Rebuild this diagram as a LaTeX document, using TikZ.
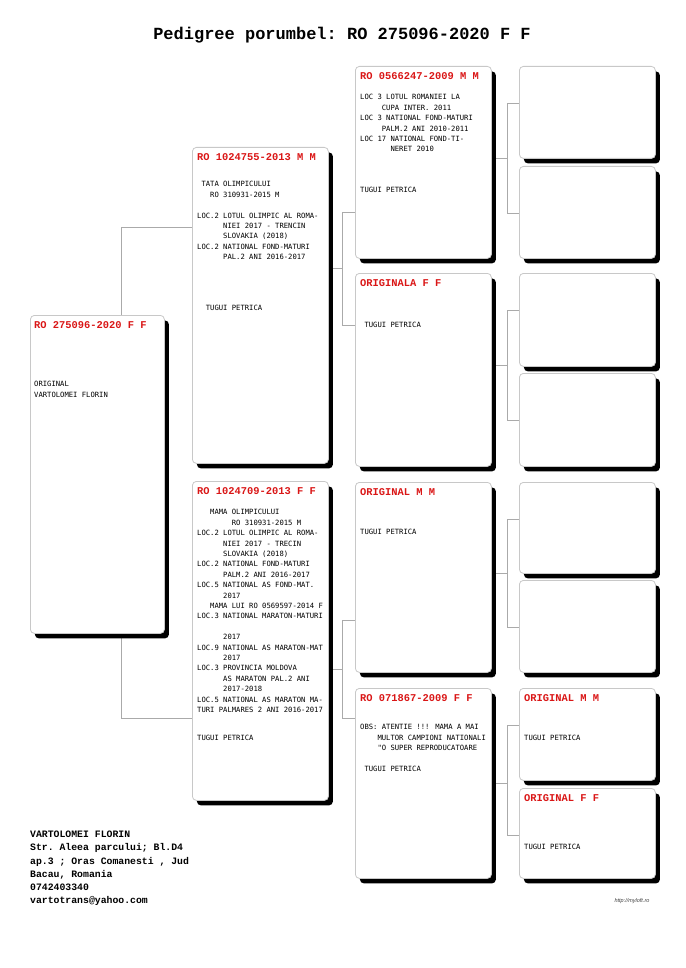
\documentclass[tikz,border=0pt]{standalone}
\usepackage{fontspec}
\setmonofont{Liberation Mono}
\newfontfamily\bodyfont{DejaVu Sans Mono}
\newfontfamily\urlfont{Liberation Sans}
\usetikzlibrary{positioning,backgrounds,shadows}

\definecolor{hdrred}{RGB}{218,22,22}
\definecolor{boxline}{RGB}{200,200,200}
\definecolor{linkgray}{RGB}{170,170,170}

% indent by n characters of the current (mono) font
\newcommand\ind[1]{\hspace*{#1\fontcharwd\font`0}}

\begin{document}
\begin{tikzpicture}[x=1pt, y=-1pt,
  box/.style={draw=boxline, fill=white, line width=0.8pt, rounded corners=4pt,
              anchor=north west, inner sep=0pt, minimum width=136pt,
              drop shadow={shadow xshift=4.5pt, shadow yshift=-5pt, fill=black, opacity=1}},
  hdr/.style={anchor=north west, inner sep=0pt, text=hdrred,
              font=\ttfamily\bfseries\fontsize{10.4}{12}\selectfont},
  body/.style={anchor=north west, inner sep=0pt, align=left,
               font=\bodyfont\fontsize{7.2}{10.4}\selectfont},
  link/.style={draw=linkgray, line width=0.6pt},
]
\useasboundingbox (0,0) rectangle (685,968);

\node[anchor=base, font=\ttfamily\bfseries\fontsize{17}{20}\selectfont] (title) at (342,40)
  {Pedigree porumbel: RO 275096-2020 F F};

% the bird
\node[box, minimum width=134pt, minimum height=318pt] (b1) at (30,315) {};
\node[hdr] (b1h) at ([shift={(4pt,-6.5pt)}]b1.north west) {RO 275096-2020 F F};
\node[body] (b1t) at ([shift={(4pt,-66.4pt)}]b1.north west)
  {ORIGINAL\\VARTOLOMEI FLORIN};

% parents
\node[box, minimum height=316pt] (b2) at (192,147) {};
\node[hdr] (b2h) at ([shift={(5pt,-6.5pt)}]b2.north west) {RO 1024755-2013 M M};
\node[body] (b2t) at ([shift={(5pt,-34.4pt)}]b2.north west)
  {\ind{1}TATA OLIMPICULUI\\
   \ind{3}RO 310931-2015 M\\[10.4pt]
   LOC.2 LOTUL OLIMPIC AL ROMA-\\
   \ind{6}NIEI 2017 - TRENCIN\\
   \ind{6}SLOVAKIA (2018)\\
   LOC.2 NATIONAL FOND-MATURI\\
   \ind{6}PAL.2 ANI 2016-2017\\[40.6pt]
   \ind{2}TUGUI PETRICA};

\node[box, minimum height=319pt] (b3) at (192,481) {};
\node[hdr] (b3h) at ([shift={(5pt,-6.5pt)}]b3.north west) {RO 1024709-2013 F F};
\node[body] (b3t) at ([shift={(5pt,-28.4pt)}]b3.north west)
  {\ind{3}MAMA OLIMPICULUI\\
   \ind{8}RO 310931-2015 M\\
   LOC.2 LOTUL OLIMPIC AL ROMA-\\
   \ind{6}NIEI 2017 - TRECIN\\
   \ind{6}SLOVAKIA (2018)\\
   LOC.2 NATIONAL FOND-MATURI\\
   \ind{6}PALM.2 ANI 2016-2017\\
   LOC.5 NATIONAL AS FOND-MAT.\\
   \ind{6}2017\\
   \ind{3}MAMA LUI RO 0569597-2014 F\\
   LOC.3 NATIONAL MARATON-MATURI\\[10.4pt]
   \ind{6}2017\\
   LOC.9 NATIONAL AS MARATON-MAT\\
   \ind{6}2017\\
   LOC.3 PROVINCIA MOLDOVA\\
   \ind{6}AS MARATON PAL.2 ANI\\
   \ind{6}2017-2018\\
   LOC.5 NATIONAL AS MARATON MA-\\
   TURI PALMARES 2 ANI 2016-2017\\[18pt]
   TUGUI PETRICA};

% grandparents
\node[box, minimum height=192pt] (c1) at (355,66) {};
\node[hdr] (c1h) at ([shift={(5pt,-6.5pt)}]c1.north west) {RO 0566247-2009 M M};
\node[body] (c1t) at ([shift={(5pt,-28.4pt)}]c1.north west)
  {LOC 3 LOTUL ROMANIEI LA\\
   \ind{5}CUPA INTER. 2011\\
   LOC 3 NATIONAL FOND-MATURI\\
   \ind{5}PALM.2 ANI 2010-2011\\
   LOC 17 NATIONAL FOND-TI-\\
   \ind{7}NERET 2010\\[30.6pt]
   TUGUI PETRICA};

\node[box, minimum height=193pt] (c2) at (355,273) {};
\node[hdr] (c2h) at ([shift={(5pt,-6.5pt)}]c2.north west) {ORIGINALA F F};
\node[body] (c2t) at ([shift={(5pt,-49.4pt)}]c2.north west) {\ind{1}TUGUI PETRICA};

\node[box, minimum height=190pt] (c3) at (355,482) {};
\node[hdr] (c3h) at ([shift={(5pt,-6.5pt)}]c3.north west) {ORIGINAL M M};
\node[body] (c3t) at ([shift={(5pt,-47.4pt)}]c3.north west) {TUGUI PETRICA};

\node[box, minimum height=190pt] (c4) at (355,688) {};
\node[hdr] (c4h) at ([shift={(5pt,-6.5pt)}]c4.north west) {RO 071867-2009 F F};
\node[body] (c4t) at ([shift={(5pt,-36.4pt)}]c4.north west)
  {OBS: ATENTIE !!! MAMA A MAI\\
   \ind{4}MULTOR CAMPIONI NATIONALI\\
   \ind{4}"O SUPER REPRODUCATOARE\\[10.4pt]
   \ind{1}TUGUI PETRICA};

% great-grandparents
\node[box, minimum height=92pt] (d1) at (519,66) {};
\node[box, minimum height=92pt] (d2) at (519,166) {};
\node[box, minimum height=93pt] (d3) at (519,273) {};
\node[box, minimum height=93pt] (d4) at (519,373) {};
\node[box, minimum height=91pt] (d5) at (519,482) {};
\node[box, minimum height=92pt] (d6) at (519,580) {};
\node[box, minimum height=92pt] (d7) at (519,688) {};
\node[hdr] (d7h) at ([shift={(5pt,-6.5pt)}]d7.north west) {ORIGINAL M M};
\node[body] (d7t) at ([shift={(5pt,-47.4pt)}]d7.north west) {TUGUI PETRICA};
\node[box, minimum height=90pt] (d8) at (519,788) {};
\node[hdr] (d8h) at ([shift={(5pt,-6.5pt)}]d8.north west) {ORIGINAL F F};
\node[body] (d8t) at ([shift={(5pt,-56.4pt)}]d8.north west) {TUGUI PETRICA};

% breeder
\node[anchor=north west, inner sep=0pt, align=left,
      font=\ttfamily\bfseries\fontsize{9.8}{13.2}\selectfont] (owner) at (30,831)
  {VARTOLOMEI FLORIN\\
   Str. Aleea parcului; Bl.D4\\
   ap.3 ; Oras Comanesti , Jud\\
   Bacau, Romania\\
   0742403340\\
   vartotrans@yahoo.com};

\node[font=\urlfont\itshape\fontsize{5.5}{6}\selectfont, text=black!75] (url) at (632,901)
  {http://myloft.ro};

\begin{scope}[on background layer]
  \fill[white] (0,0) rectangle (685,968);
  % bird -> parents
  \draw[link] ([yshift=-80pt]b2.north west) -| ([xshift=91pt]b1.north west);
  \draw[link] ([yshift=-237pt]b3.north west) -| ([xshift=91pt]b1.south west);
  % parents -> grandparents
  \draw[link] ([yshift=-146pt]c1.north west) -- ++(-13,0) |- ([yshift=-52pt]c2.north west);
  \draw[link] ([yshift=-121pt]b2.north east) -- ++(14,0);
  \draw[link] ([yshift=-138pt]c3.north west) -- ++(-13,0) |- ([yshift=-30pt]c4.north west);
  \draw[link] ([yshift=-188pt]b3.north east) -- ++(14,0);
  % grandparents -> great-grandparents
  \draw[link] ([yshift=-37pt]d1.north west) -- ++(-12,0) |- ([yshift=-47pt]d2.north west);
  \draw[link] ([yshift=-92pt]c1.north east) -- ++(16,0);
  \draw[link] ([yshift=-37pt]d3.north west) -- ++(-12,0) |- ([yshift=-47pt]d4.north west);
  \draw[link] ([yshift=-92pt]c2.north east) -- ++(16,0);
  \draw[link] ([yshift=-37pt]d5.north west) -- ++(-12,0) |- ([yshift=-47pt]d6.north west);
  \draw[link] ([yshift=-91pt]c3.north east) -- ++(16,0);
  \draw[link] ([yshift=-37pt]d7.north west) -- ++(-12,0) |- ([yshift=-47pt]d8.north west);
  \draw[link] ([yshift=-95pt]c4.north east) -- ++(16,0);
\end{scope}
\end{tikzpicture}
\end{document}
